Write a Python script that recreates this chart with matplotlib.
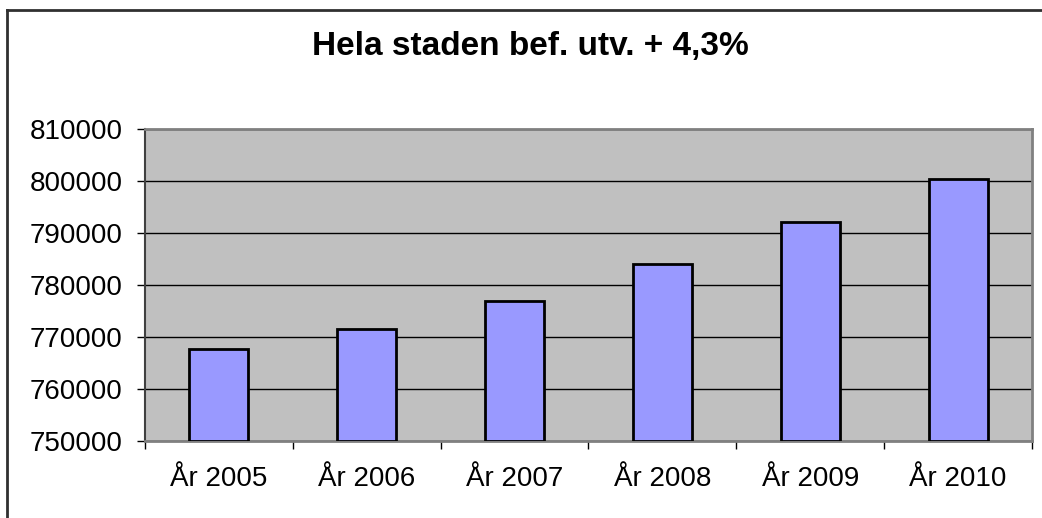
import matplotlib.pyplot as plt
from matplotlib.lines import Line2D

years = ["År 2005", "År 2006", "År 2007", "År 2008", "År 2009", "År 2010"]
population = [767700, 771500, 777000, 784100, 792200, 800300]
yticks = [750000, 760000, 770000, 780000, 790000, 800000, 810000]

plt.rcParams['font.family'] = ['Liberation Sans', 'DejaVu Sans']

fig = plt.figure(figsize=(10.42, 5.18), dpi=100)
ax = fig.add_axes([145 / 1042, 1 - 441 / 518, 887 / 1042, 312 / 518])

x = list(range(len(years)))
ax.bar(x, [p - yticks[0] for p in population], bottom=yticks[0], width=0.4,
       color='#9999FF', edgecolor='black', linewidth=2, zorder=3)

ax.set_facecolor('#C0C0C0')
ax.set_xlim(-0.5, len(years) - 0.5)
ax.set_ylim(yticks[0], yticks[-1])
ax.set_yticks(yticks)
ax.set_yticklabels([str(t) for t in yticks])
ax.yaxis.grid(True, color='black', linewidth=1, zorder=1)
ax.set_axisbelow(True)

# category ticks sit between the bars
ax.set_xticks([i - 0.5 for i in range(len(years) + 1)], minor=False)
ax.set_xticklabels([])
ax.set_xticks(x, minor=True)
ax.set_xticklabels(years, minor=True)
ax.tick_params(axis='x', which='minor', length=0, labelsize=20, pad=18)
ax.tick_params(axis='x', which='major', length=5.8, width=1, color='black')
ax.tick_params(axis='y', length=5.8, width=1, color='black', labelsize=20, pad=10.5)

for side in ['top', 'right', 'bottom']:
    ax.spines[side].set_color('#808080')
    ax.spines[side].set_linewidth(2)
ax.spines['left'].set_color('#404040')
ax.spines['left'].set_linewidth(1.5)

fig.text(530 / 1042, 1 - 47 / 518, "Hela staden bef. utv. + 4,3%",
         ha='center', va='center', fontsize=24, fontweight='bold')

# outer chart border (only left and top visible in the crop)
fig.add_artist(Line2D([7 / 1042, 7 / 1042], [0, 1 - 10 / 518], color='#303030', linewidth=2))
fig.add_artist(Line2D([7 / 1042, 1], [1 - 10 / 518, 1 - 10 / 518], color='#303030', linewidth=2))

fig.savefig('out.png', dpi=100)
